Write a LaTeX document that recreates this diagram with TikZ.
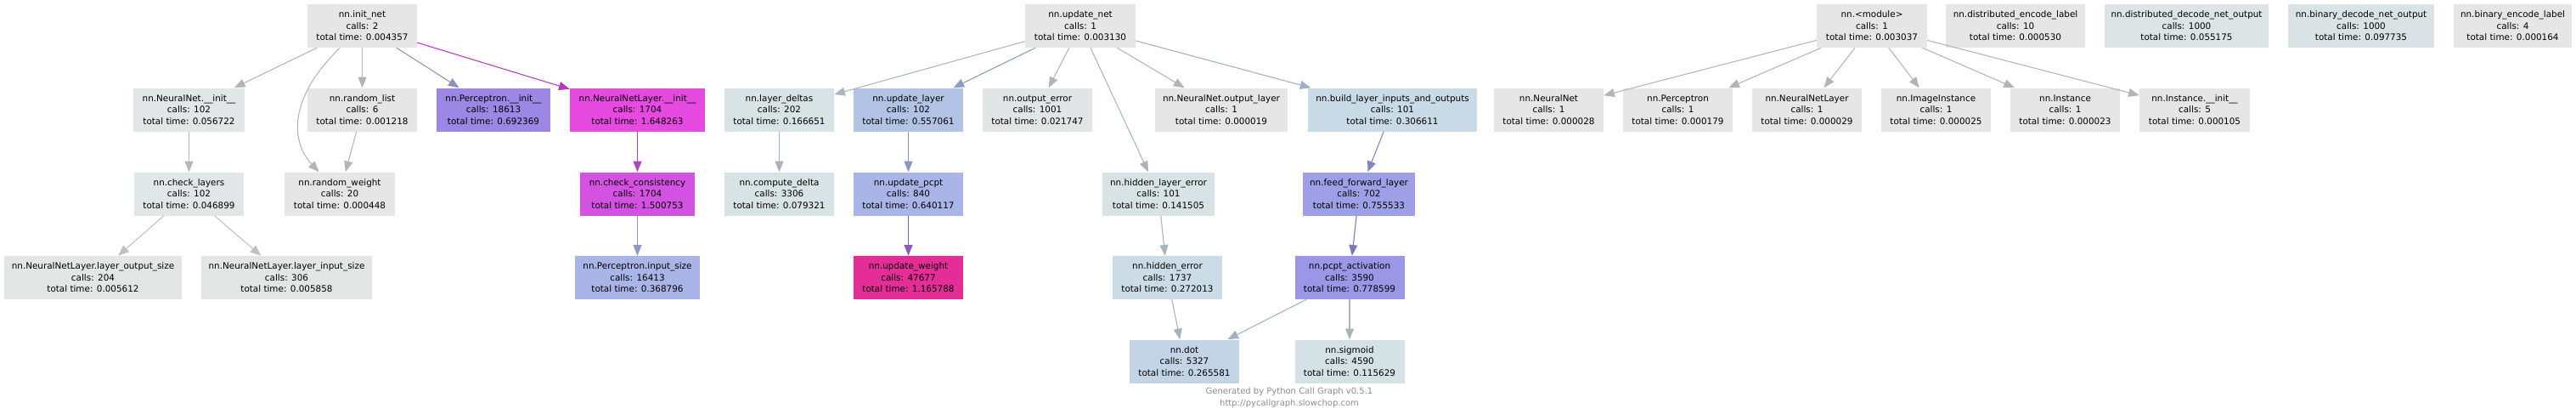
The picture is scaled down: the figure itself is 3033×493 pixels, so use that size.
\documentclass[tikz,border=0pt]{standalone}
\usepackage{fontspec}
\setmainfont{DejaVu Sans}
\usetikzlibrary{arrows.meta}
\definecolor{cG}{HTML}{E6E6E6}
\definecolor{cNI}{HTML}{E1E6E6}
\definecolor{cLS}{HTML}{E4E6E6}
\definecolor{cOE}{HTML}{E1E5E6}
\definecolor{cDD}{HTML}{DDE4E6}
\definecolor{cBD}{HTML}{D9E3E6}
\definecolor{cLD}{HTML}{D7E3E5}
\definecolor{cSig}{HTML}{D4E1E5}
\definecolor{cHE}{HTML}{CBDCE6}
\definecolor{cBL}{HTML}{C9DBE6}
\definecolor{cDot}{HTML}{C3D4E6}
\definecolor{cUL}{HTML}{B3C3E5}
\definecolor{cUP}{HTML}{A9B5E6}
\definecolor{cFF}{HTML}{9DA0E6}
\definecolor{cPA}{HTML}{9B97E6}
\definecolor{cPI}{HTML}{9C87E4}
\definecolor{cNLI}{HTML}{E64AE0}
\definecolor{cCC}{HTML}{D452E2}
\definecolor{cUW}{HTML}{E52D98}
\definecolor{eG}{HTML}{B4B4B4}
\definecolor{eL}{HTML}{C0C2C2}
\definecolor{eNI}{HTML}{B4B8B8}
\definecolor{ePI}{HTML}{8A94BE}
\definecolor{eNLI}{HTML}{B23CBE}
\definecolor{eCC}{HTML}{AA48BE}
\definecolor{ePIS}{HTML}{8E98C4}
\definecolor{eLD}{HTML}{AEB6BA}
\definecolor{eUL}{HTML}{8C9CC4}
\definecolor{eHL}{HTML}{AAB4B8}
\definecolor{eBL}{HTML}{A0B2C2}
\definecolor{eUP}{HTML}{8A96C0}
\definecolor{eUW}{HTML}{8E5CB8}
\definecolor{eHE}{HTML}{A6B2BC}
\definecolor{eFF}{HTML}{7F86C0}
\definecolor{ePA}{HTML}{7A78BA}
\definecolor{eFoot}{HTML}{8C8C8C}
\begin{document}
\begin{tikzpicture}[x=0.75pt,y=-0.75pt,
  fn/.style={fill=#1, inner sep=0pt, minimum height=38.25pt, align=center,
    font=\fontsize{7.8}{10.1}\selectfont, text=black},
  bw/.style={minimum width=#1*0.75pt},
  ed/.style={draw=#1, line width=0.8pt, -{Triangle[length=9.5pt,width=7.5pt]}},
  foot/.style={align=center, font=\fontsize{7.5}{10.5}\selectfont, text=eFoot, inner sep=0pt}]
\path[use as bounding box] (0,0) rectangle (3033,493);
% row 1
\node[fn=cG, bw=129] (init) at (426.5,30.5) {nn.init\_net\\calls: 2\\total time: 0.004357};
\node[fn=cG, bw=130] (unet) at (1272,30.5) {nn.update\_net\\calls: 1\\total time: 0.003130};
\node[fn=cG, bw=130] (mod) at (2204,30.5) {nn.<module>\\calls: 1\\total time: 0.003037};
\node[fn=cG, bw=164] (del) at (2373,30.5) {nn.distributed\_encode\_label\\calls: 10\\total time: 0.000530};
\node[fn=cDD, bw=193] (ddn) at (2574.5,30.5) {nn.distributed\_decode\_net\_output\\calls: 1000\\total time: 0.055175};
\node[fn=cBD, bw=172] (bdn) at (2780,30.5) {nn.binary\_decode\_net\_output\\calls: 1000\\total time: 0.097735};
\node[fn=cG, bw=139] (bel) at (2958.5,30.5) {nn.binary\_encode\_label\\calls: 4\\total time: 0.000164};
% row 2
\node[fn=cNI, bw=131] (nni) at (222.5,129) {nn.NeuralNet.\_\_init\_\_\\calls: 102\\total time: 0.056722};
\node[fn=cG, bw=129] (rl) at (426.5,129) {nn.random\_list\\calls: 6\\total time: 0.001218};
\node[fn=cPI, bw=134] (pi) at (581,129) {nn.Perceptron.\_\_init\_\_\\calls: 18613\\total time: 0.692369};
\node[fn=cNLI, bw=159] (nli) at (750.5,129) {nn.NeuralNetLayer.\_\_init\_\_\\calls: 1704\\total time: 1.648263};
\node[fn=cLD, bw=129] (ld) at (917.5,129) {nn.layer\_deltas\\calls: 202\\total time: 0.166651};
\node[fn=cUL, bw=129] (ul) at (1069.5,129) {nn.update\_layer\\calls: 102\\total time: 0.557061};
\node[fn=cOE, bw=129] (oe) at (1221.5,129) {nn.output\_error\\calls: 1001\\total time: 0.021747};
\node[fn=cG, bw=156] (nol) at (1438,129) {nn.NeuralNet.output\_layer\\calls: 1\\total time: 0.000019};
\node[fn=cBL, bw=199] (bl) at (1639.5,129) {nn.build\_layer\_inputs\_and\_outputs\\calls: 101\\total time: 0.306611};
\node[fn=cG, bw=129] (nn) at (1823.5,129) {nn.NeuralNet\\calls: 1\\total time: 0.000028};
\node[fn=cG, bw=129] (pc) at (1975.5,129) {nn.Perceptron\\calls: 1\\total time: 0.000179};
\node[fn=cG, bw=129] (nl) at (2127.5,129) {nn.NeuralNetLayer\\calls: 1\\total time: 0.000029};
\node[fn=cG, bw=129] (ii) at (2279.5,129) {nn.ImageInstance\\calls: 1\\total time: 0.000025};
\node[fn=cG, bw=129] (inst) at (2431.5,129) {nn.Instance\\calls: 1\\total time: 0.000023};
\node[fn=cG, bw=130] (iinit) at (2584,129) {nn.Instance.\_\_init\_\_\\calls: 5\\total time: 0.000105};
% row 3
\node[fn=cNI, bw=129] (cl) at (222.5,228) {nn.check\_layers\\calls: 102\\total time: 0.046899};
\node[fn=cG, bw=130] (rw) at (400,228) {nn.random\_weight\\calls: 20\\total time: 0.000448};
\node[fn=cCC, bw=135] (cc) at (750.5,228) {nn.check\_consistency\\calls: 1704\\total time: 1.500753};
\node[fn=cLD, bw=129] (cd) at (917.5,228) {nn.compute\_delta\\calls: 3306\\total time: 0.079321};
\node[fn=cUP, bw=129] (up) at (1069.5,228) {nn.update\_pcpt\\calls: 840\\total time: 0.640117};
\node[fn=cLD, bw=132] (hle) at (1364,228) {nn.hidden\_layer\_error\\calls: 101\\total time: 0.141505};
\node[fn=cFF, bw=132] (ff) at (1600,228) {nn.feed\_forward\_layer\\calls: 702\\total time: 0.755533};
% row 4
\node[fn=cLS, bw=209] (los) at (109.5,326.5) {nn.NeuralNetLayer.layer\_output\_size\\calls: 204\\total time: 0.005612};
\node[fn=cLS, bw=201] (lis) at (337.5,326.5) {nn.NeuralNetLayer.layer\_input\_size\\calls: 306\\total time: 0.005858};
\node[fn=cUP, bw=147] (pis) at (750.5,326.5) {nn.Perceptron.input\_size\\calls: 16413\\total time: 0.368796};
\node[fn=cUW, bw=129] (uw) at (1069.5,326.5) {nn.update\_weight\\calls: 47677\\total time: 1.165788};
\node[fn=cHE, bw=129] (he) at (1374.5,326.5) {nn.hidden\_error\\calls: 1737\\total time: 0.272013};
\node[fn=cPA, bw=129] (pa) at (1589,326.5) {nn.pcpt\_activation\\calls: 3590\\total time: 0.778599};
% row 5
\node[fn=cDot, bw=129] (dot) at (1394.5,425) {nn.dot\\calls: 5327\\total time: 0.265581};
\node[fn=cSig, bw=129] (sig) at (1589,425) {nn.sigmoid\\calls: 4590\\total time: 0.115629};
% footer
\node[foot] (footer) at (1518,467.7) {Generated by Python Call Graph v0.5.1\\http://pycallgraph.slowchop.com};
% edges
\draw[ed=eG] (init) -- (nni);
\draw[ed=eG] (init) .. controls (335,120) and (345,170) .. (rw);
\draw[ed=eG] (init) -- (rl);
\draw[ed=ePI] (init) -- (pi);
\draw[ed=eNLI] (init) -- (nli);
\draw[ed=eNI] (nni) -- (cl);
\draw[ed=eG] (rl) -- (rw);
\draw[ed=eL] (cl) -- (los);
\draw[ed=eL] (cl) -- (lis);
\draw[ed=eCC] (nli) -- (cc);
\draw[ed=ePIS] (cc) -- (pis);
\draw[ed=eLD] (unet) -- (ld);
\draw[ed=eUL] (unet) -- (ul);
\draw[ed=eG] (unet) -- (oe);
\draw[ed=eHL] (unet) -- (hle);
\draw[ed=eG] (unet) -- (nol);
\draw[ed=eBL] (unet) -- (bl);
\draw[ed=eHL] (ld) -- (cd);
\draw[ed=eUP] (ul) -- (up);
\draw[ed=eUW] (up) -- (uw);
\draw[ed=eHE] (hle) -- (he);
\draw[ed=eHE] (he) -- (dot);
\draw[ed=eFF] (bl) -- (ff);
\draw[ed=ePA] (ff) -- (pa);
\draw[ed=eBL] (pa) -- (dot);
\draw[ed=eHL] (pa) -- (sig);
\draw[ed=eG] (mod) -- (nn);
\draw[ed=eG] (mod) -- (pc);
\draw[ed=eG] (mod) -- (nl);
\draw[ed=eG] (mod) -- (ii);
\draw[ed=eG] (mod) -- (inst);
\draw[ed=eG] (mod) -- (iinit);
\end{tikzpicture}
\end{document}
